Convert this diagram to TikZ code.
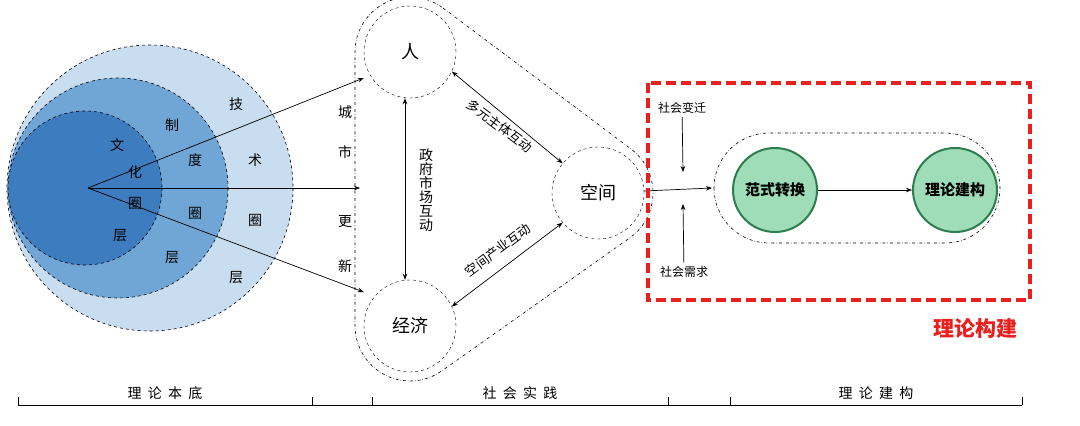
\documentclass[tikz,border=0pt]{standalone}
\usepackage{fontspec}
\setmainfont{Noto Sans CJK SC}
\usetikzlibrary{arrows.meta,calc}
\definecolor{outerblue}{HTML}{C9DDF0}
\definecolor{midblue}{HTML}{6FA6D6}
\definecolor{innerblue}{HTML}{3D7CBF}
\definecolor{greenfill}{HTML}{9EDDB8}
\definecolor{greenline}{HTML}{2E7D4F}
\definecolor{redline}{HTML}{E8201E}
\tikzset{
  ring/.style={draw,dashed,line width=0.6pt},
  arr/.style={-{Stealth[length=6pt]},line width=0.7pt},
  biarr/.style={{Stealth[length=6pt]}-{Stealth[length=6pt]},line width=0.7pt},
  actor/.style={circle,draw,dashed,minimum size=92pt,font=\fontsize{18}{18}\selectfont},
  goal/.style={circle,draw=greenline,line width=2pt,fill=greenfill,minimum size=84pt,font=\bfseries\fontsize{15}{15}\selectfont},
  lbl/.style={font=\fontsize{14}{14}\selectfont}
}
\begin{document}
\begin{tikzpicture}[x=1pt,y=-1pt]
  \useasboundingbox (0,0) rectangle (1080,426);
  % Kreise
  \fill[outerblue] (150,188) circle (143);
  \draw[ring] (150,188) circle (143);
  \fill[midblue] (118,188) circle (110);
  \draw[ring] (118,188) circle (110);
  \fill[innerblue] (85,188) circle (77);
  \draw[ring] (85,188) circle (77);

  \foreach \t/\x/\y in {文/117/145,化/135/172,圈/135/203,层/120/236,
                        制/172/125,度/195/160,圈/195/213,层/172/258,
                        技/236/104,术/255/160,圈/255/220,层/236/278}
    \node[lbl] at (\x,\y) {\t};

  \coordinate (src) at (88,188);

  % Akteure
  \node[actor] (ren) at (410,52) {人};
  \node[actor] (jingji) at (410,326) {经济};
  \node[actor] (kongjian) at (598,193) {空间};
  \draw[dash dot,line width=0.6pt]
    (443,8) -- (631,149) arc[start angle=-53.13,end angle=54.73,radius=55]
    -- (441.8,370.9) arc[start angle=54.73,end angle=180,radius=55]
    -- (355,52) arc[start angle=180,end angle=306.87,radius=55] -- cycle;

  \draw[arr] (src) -- (ren.west |- 0,78);
  \draw[arr] (src) -- (360,188);
  \draw[arr] (src) -- (jingji.west |- 0,292);

  \foreach \t/\y in {城/112,市/152,更/222,新/266}
    \node[lbl] at (345,\y) {\t};

  \draw[biarr] (ren.south -| 405,0) -- (jingji.north -| 405,0);
  \node[lbl,align=center,text width=14pt] at (426,190) {政\\府\\市\\场\\互\\动};
  \draw[biarr] (ren.-25) -- (kongjian.140);
  \node[font=\fontsize{13}{13}\selectfont,rotate=-37] at (500,126) {多元主体互动};
  \draw[biarr] (jingji.25) -- (kongjian.220);
  \node[font=\fontsize{13}{13}\selectfont,rotate=37] at (498,250) {空间产业互动};

  % Theorie
  \draw[dash dot,line width=0.6pt,rounded corners=55pt] (714,133) rectangle (1000,243);
  \node[goal] (fanshi) at (775,190) {范式转换};
  \node[goal] (lilun) at (955,190) {理论建构};
  \draw[arr] (fanshi) -- (lilun);
  \coordinate (merge) at (712,188);
  \draw[arr] (kongjian) -- (merge);
  \node[font=\fontsize{12}{12}\selectfont] (bianqian) at (682,108) {社会变迁};
  \node[font=\fontsize{12}{12}\selectfont] (xuqiu) at (684,272) {社会需求};
  \draw[arr] (bianqian) -- (683,172);
  \draw[arr] (xuqiu) -- (683,204);

  \draw[redline,line width=4pt,dash pattern=on 10pt off 5pt] (648,83) rectangle (1030,300);
  \node[redline,font=\bfseries\fontsize{21}{21}\selectfont] at (975,328) {理论构建};

  % Skala
  \draw[line width=0.7pt] (18,405) -- (1022,405);
  \foreach \x in {18,312,372,668,730,1022}
    \draw[line width=0.7pt] (\x,405) -- (\x,397);
  \foreach \t/\x in {理\ \ 论\ \ 本\ \ 底/165,社\ \ 会\ \ 实\ \ 践/520,理\ \ 论\ \ 建\ \ 构/876}
    \node[font=\fontsize{14}{14}\selectfont] at (\x,393) {\t};
\end{tikzpicture}
\end{document}
